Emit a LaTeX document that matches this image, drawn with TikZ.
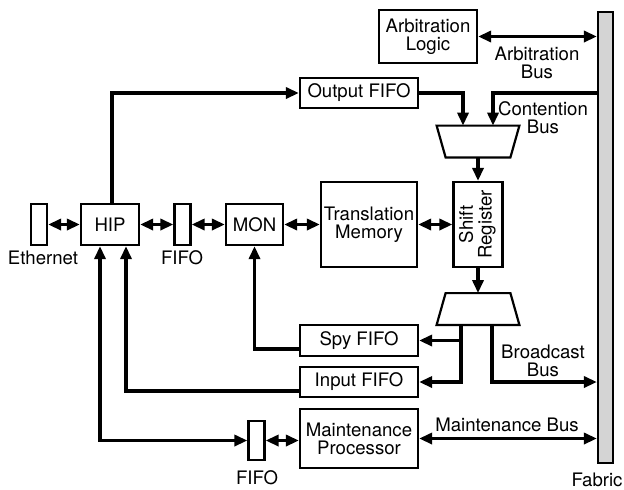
\documentclass[tikz,border=0pt]{standalone}
\usepackage{fontspec}
\setmainfont{TeX Gyre Heros}
\usepackage{tikz}
\usetikzlibrary{arrows.meta}
\tikzset{
  unit/.style={draw, line width=1.1pt, inner sep=0pt, align=center},
  slim/.style={unit, minimum width=8pt, minimum height=20.5pt},
  mux/.style={inner sep=0pt, minimum width=41pt, minimum height=15.5pt},
  bus/.style={line width=1.7pt}
}

\begin{document}
\begin{tikzpicture}[x=0.5pt, y=-0.5pt, >={Triangle[length=6.5pt,width=5.5pt]}, font=\fontsize{9.3}{8.9}\selectfont]
    \useasboundingbox (0,0) rectangle (624,489);
    % blocks
    \node (fabric) [unit, fill=black!17, minimum width=7.5pt, minimum height=225.5pt] at (605.5,237.5) {};
    \node (arb) [unit, minimum width=49pt, minimum height=26.5pt] at (428,36.5) {Arbitration\\Logic};
    \node (outfifo) [unit, minimum width=59pt, minimum height=15pt] at (359,93) {Output FIFO};
    \node (muxA) [mux] at (478,141.5) {};
    \draw[line width=1.1pt] (muxA.north west) -- (muxA.north east) -- ([xshift=-4.5pt]muxA.south east) -- ([xshift=4.5pt]muxA.south west) -- cycle;
    \node (eth) [slim] at (39,224.5) {};
    \node (hip) [unit, minimum width=29pt, minimum height=20.5pt] at (110,224.5) {HIP};
    \node (fifoA) [slim] at (182.5,224.5) {};
    \node (mon) [unit, minimum width=28.5pt, minimum height=20.5pt] at (254.5,224.5) {MON};
    \node (tmem) [unit, minimum width=48pt, minimum height=42.5pt] at (369,224.5) {Translation\\Memory};
    \node (shreg) [unit, minimum width=24.5pt, minimum height=42.5pt] at (478,224.5) {\rotatebox{90}{\begin{tabular}{@{}c@{}}Shift\\Register\end{tabular}}};
    \node (muxB) [mux] at (478,309) {};
    \draw[line width=1.1pt] ([xshift=4.5pt]muxB.north west) -- ([xshift=-4.5pt]muxB.north east) -- (muxB.south east) -- (muxB.south west) -- cycle;
    \node (spyfifo) [unit, minimum width=59pt, minimum height=15.5pt] at (359,340.5) {Spy FIFO};
    \node (infifo) [unit, minimum width=59pt, minimum height=15pt] at (359,382) {Input FIFO};
    \node (maint) [unit, minimum width=59pt, minimum height=29.5pt] at (359,438.5) {Maintenance\\Processor};
    \node (fifoB) [slim, minimum height=19.5pt] at (256.5,440.5) {};
    % labels
    \node (ethlbl) at (43,258) {Ethernet};
    \node (fifoAlbl) at (182,258) {FIFO};
    \node (fifoBlbl) at (257,478) {FIFO};
    \node (fabriclbl) at (597,480) {Fabric};
    \node (arblbl) [align=center] at (537,62.5) {Arbitration\\Bus};
    \node (contlbl) [align=center] at (543,118) {Contention\\Bus};
    \node (bcastlbl) [align=center] at (543,360.5) {Broadcast\\Bus};
    \node (maintlbl) at (507,425) {Maintenance Bus};
    % connections
    \draw[bus,<->] (eth) -- (hip);
    \draw[bus,<->] (hip) -- (fifoA);
    \draw[bus,<->] (fifoA) -- (mon);
    \draw[bus,<->] (mon) -- (tmem);
    \draw[bus,<->] (tmem) -- (shreg);
    \draw[bus,->] ([xshift=1pt]hip.north) |- (outfifo.west);
    \draw[bus,<->] (arb.east) -- (arb.east -| fabric.west);
    \draw[bus,->] (outfifo.east) -| ([xshift=-7.5pt]muxA.north);
    \draw[bus,->] (fabric.west |- outfifo.east) -| ([xshift=7.5pt]muxA.north);
    \draw[bus,->] (muxA.south) -- (shreg.north);
    \draw[bus,->] (shreg.south) -- (muxB.north);
    \draw[bus,->] ([xshift=-8.5pt]muxB.south) |- (spyfifo.east);
    \draw[bus,->] ([xshift=-8.5pt]muxB.south) |- (infifo.east);
    \draw[bus,->] ([xshift=7pt]muxB.south) |- (fabric.west |- infifo.east);
    \draw[bus,->] ([yshift=-4.25pt]spyfifo.west) -| (mon.south);
    \draw[bus,->] ([yshift=-4.5pt]infifo.west) -| ([xshift=8pt]hip.south);
    \draw[bus,<->] ([xshift=-5pt]hip.south) |- (fifoB.west);
    \draw[bus,<->] (fifoB.east) -- (fifoB.east -| maint.west);
    \draw[bus,<->] (maint.east) -- (maint.east -| fabric.west);
\end{tikzpicture}
\end{document}
